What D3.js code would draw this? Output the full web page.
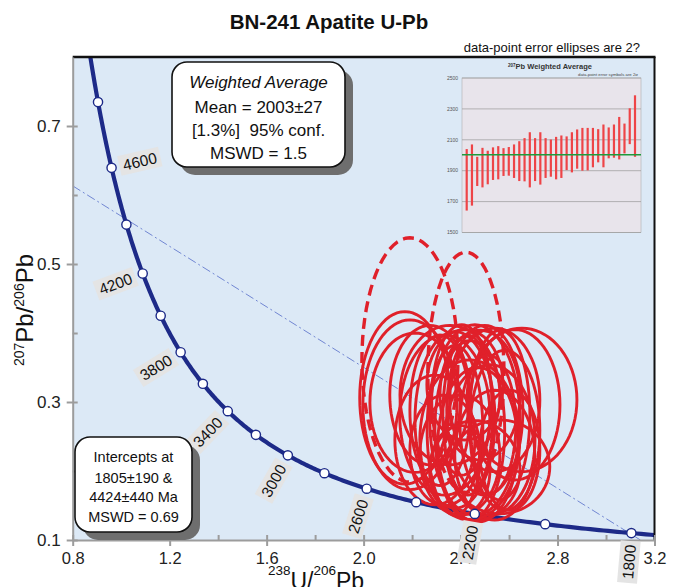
<!DOCTYPE html>
<html>
<head>
<meta charset="utf-8">
<script src="https://cdn.jsdelivr.net/npm/d3@7/dist/d3.min.js"></script>
<style>
  html, body { margin: 0; padding: 0; background: #fff; }
  svg { display: block; }
  text { font-family: "Liberation Sans", Arial, sans-serif; }
</style>
</head>
<body>
<svg id="chart" width="680" height="587"></svg>
<script>
// ---------------- DATA ----------------
const title = "BN-241 Apatite U-Pb";
const subtitle = "data-point error ellipses are 2?";
const xTicks = [0.8, 1.2, 1.6, 2.0, 2.4, 2.8, 3.2];
const xMinorTicks = [1.0, 1.4, 1.8, 2.2, 2.6, 3.0];
const yTicks = [0.1, 0.3, 0.5, 0.7];
const yMinorTicks = [0.2, 0.4, 0.6];

// concordia age markers (Ma) and labelled ages
const markerAges = [1800, 2000, 2200, 2400, 2600, 2800, 3000, 3200, 3400, 3600, 3800, 4000, 4200, 4400, 4600, 4800];
const labelAges  = [4600, 4200, 3800, 3400, 3000, 2600, 2200, 1800];
const labelSide  = [1, -1, -1, -1, -1, -1, -1, -1];   // 1 = upper-right side of curve

// discordia intercept ages (Ma)
const lowerIntercept = 1805;
const upperIntercept = 4424;

// data-point ellipses: centre 238U/206Pb, centre 207Pb/206Pb, 2s half-axes
const ellX  = [2.170, 2.191, 2.212, 2.653, 2.562, 2.541, 2.624, 2.471, 2.438, 2.377, 2.500, 2.335, 2.405, 2.521, 2.294, 2.459, 2.583,
               2.356, 2.430, 2.480, 2.315, 2.397, 2.541, 2.377, 2.438, 2.273, 2.513, 2.418, 2.603, 2.335, 2.459, 2.562, 2.397];
const ellY  = [0.306, 0.296, 0.299, 0.303, 0.206, 0.303, 0.296, 0.238, 0.259, 0.274, 0.288, 0.281, 0.303, 0.245, 0.245, 0.201, 0.259,
               0.310, 0.281, 0.310, 0.288, 0.223, 0.223, 0.259, 0.245, 0.310, 0.267, 0.325, 0.230, 0.230, 0.274, 0.281, 0.201];
const ellSX = [0.186, 0.194, 0.186, 0.227, 0.206, 0.186, 0.186, 0.165, 0.144, 0.165, 0.157, 0.186, 0.124, 0.186, 0.165, 0.186, 0.144,
               0.206, 0.103, 0.165, 0.124, 0.165, 0.165, 0.115, 0.206, 0.165, 0.115, 0.157, 0.124, 0.144, 0.186, 0.124, 0.124];
const ellSY = [0.125, 0.123, 0.101, 0.104, 0.068, 0.104, 0.109, 0.112, 0.130, 0.128, 0.123, 0.116, 0.109, 0.109, 0.094, 0.072, 0.116,
               0.101, 0.116, 0.094, 0.109, 0.087, 0.094, 0.123, 0.116, 0.101, 0.101, 0.080, 0.087, 0.080, 0.138, 0.123, 0.065];
// rejected analyses (dashed)
const rejX  = [2.191, 2.422];
const rejY  = [0.361, 0.343];
const rejSX = [0.198, 0.157];
const rejSY = [0.177, 0.174];

// box texts
const wavgLines = ["Weighted Average", "Mean = 2003\u00B127", "[1.3%]\u00A0\u00A095% conf.", "MSWD = 1.5"];
const interceptLines = ["Intercepts at", "1805\u00B1190 &", "4424\u00B1440 Ma", "MSWD = 0.69"];

// inset: 207Pb weighted average bars (Ma, 2s)
const insetLow  = [1642, 1674, 1801, 1792, 1812, 1840, 1844, 1866, 1868, 1853, 1833, 1831, 1792, 1833, 1810, 1853, 1861,
                   1844, 1853, 1904, 1889, 1913, 1900, 1902, 1922, 1954, 1922, 1980, 1984, 1973, 2012, 2072, 1990];
const insetHigh = [2040, 2070, 1990, 2048, 2029, 2051, 2059, 2046, 2053, 2070, 2091, 2111, 2149, 2111, 2149, 2111, 2102,
                   2119, 2128, 2122, 2149, 2167, 2177, 2177, 2177, 2169, 2199, 2180, 2199, 2248, 2205, 2304, 2388];
const insetMean = 2003;
const insetTicks = [1500, 1700, 1900, 2100, 2300, 2500];

// ---------------- CHART ----------------
const svg = d3.select("#chart");
const L = 72.7, R = 654.5, T = 57, B = 540;
const x = d3.scaleLinear().domain([0.8, 3.2]).range([L, R]);
const y = d3.scaleLinear().domain([0.1, 0.8]).range([B, T]);

const L238 = 1.55125e-10, L235 = 9.8485e-10, U85 = 137.88;
function tw(tMa) {
  const t = tMa * 1e6;
  const e8 = Math.expm1(L238 * t), e5 = Math.expm1(L235 * t);
  return [1 / e8, e5 / e8 / U85];
}

svg.append("defs").append("clipPath").attr("id", "clip")
  .append("rect").attr("x", L).attr("y", T).attr("width", R - L).attr("height", B - T);

// background
svg.append("rect").attr("x", L).attr("y", T).attr("width", R - L).attr("height", B - T).attr("fill", "#dce9f6");

const plot = svg.append("g").attr("clip-path", "url(#clip)");

// discordia
const pLo = tw(lowerIntercept), pHi = tw(upperIntercept);
const slope = (pLo[1] - pHi[1]) / (pLo[0] - pHi[0]);
const dx0 = 0.8, dx1 = pLo[0] + (0.1 - pLo[1]) / slope;
plot.append("line")
  .attr("x1", x(dx0)).attr("y1", y(pHi[1] + slope * (dx0 - pHi[0])))
  .attr("x2", x(dx1)).attr("y2", y(0.1))
  .attr("stroke", "#7186d2").attr("stroke-width", 1).attr("stroke-dasharray", "9,3,2,3");

// concordia
const curveAges = d3.range(1000, 5301, 10);
const concLine = d3.line().x(d => x(tw(d)[0])).y(d => y(tw(d)[1])).curve(d3.curveLinear);
plot.append("path").attr("d", concLine(curveAges))
  .attr("fill", "none").attr("stroke", "#1d2a88").attr("stroke-width", 4.2);

// ellipses
function ellPath(cx, cy, sx, sy) {
  const pts = d3.range(0, 72).map(i => {
    const a = i / 72 * 2 * Math.PI;
    return [x(cx + sx * Math.cos(a)), y(cy + sy * Math.sin(a))];
  });
  return d3.line().curve(d3.curveLinearClosed)(pts);
}
plot.selectAll("path.rej").data(rejX).join("path").attr("class", "rej")
  .attr("d", (d, i) => ellPath(rejX[i], rejY[i], rejSX[i], rejSY[i]))
  .attr("fill", "none").attr("stroke", "#e0202a").attr("stroke-width", 3.4)
  .attr("stroke-dasharray", "11,6");
plot.selectAll("path.ell").data(ellX).join("path").attr("class", "ell")
  .attr("d", (d, i) => ellPath(ellX[i], ellY[i], ellSX[i], ellSY[i]))
  .attr("fill", "none").attr("stroke", "#e0202a").attr("stroke-width", 2.9);

// concordia markers
plot.selectAll("circle.mk").data(markerAges).join("circle").attr("class", "mk")
  .attr("cx", d => x(tw(d)[0])).attr("cy", d => y(tw(d)[1])).attr("r", 4.6)
  .attr("fill", "#fff").attr("stroke", "#1d2a88").attr("stroke-width", 1.4);

// borders top/right
svg.append("line").attr("x1", L).attr("x2", R + 1).attr("y1", T).attr("y2", T).attr("stroke", "#111").attr("stroke-width", 2.5);
svg.append("line").attr("x1", R).attr("x2", R).attr("y1", T).attr("y2", B).attr("stroke", "#111").attr("stroke-width", 2);

// axes
const axisColor = "#9c9c9c";
const gy = svg.append("g").attr("transform", `translate(${L},0)`)
  .call(d3.axisLeft(y).tickValues(yTicks).tickSize(6).tickSizeOuter(0).tickPadding(6).tickFormat(d3.format(".1f")));
gy.select(".domain").attr("stroke", axisColor).attr("stroke-width", 2);
gy.selectAll(".tick line").attr("x2", -6).attr("x1", 5).attr("stroke", axisColor).attr("stroke-width", 2);
gy.selectAll(".tick text").attr("font-size", 17).attr("fill", "#222").attr("font-family", "Liberation Sans, Arial, sans-serif");
const gym = svg.append("g").attr("transform", `translate(${L},0)`)
  .call(d3.axisLeft(y).tickValues(yMinorTicks).tickSize(-5).tickSizeOuter(0).tickFormat(""));
gym.select(".domain").remove();
gym.selectAll(".tick line").attr("stroke", axisColor).attr("stroke-width", 2);

const gx = svg.append("g").attr("transform", `translate(0,${B})`)
  .call(d3.axisBottom(x).tickValues(xTicks).tickSize(6).tickSizeOuter(0).tickPadding(6).tickFormat(d3.format(".1f")));
gx.select(".domain").attr("stroke", axisColor).attr("stroke-width", 2);
gx.selectAll(".tick line").attr("y1", -5).attr("y2", 6).attr("stroke", axisColor).attr("stroke-width", 2);
gx.selectAll(".tick text").attr("font-size", 16.5).attr("fill", "#222").attr("font-family", "Liberation Sans, Arial, sans-serif");
const gxm = svg.append("g").attr("transform", `translate(0,${B})`)
  .call(d3.axisBottom(x).tickValues(xMinorTicks).tickSize(-5).tickSizeOuter(0).tickFormat(""));
gxm.select(".domain").remove();
gxm.selectAll(".tick line").attr("stroke", axisColor).attr("stroke-width", 2);

// concordia age labels
labelAges.forEach((age, i) => {
  const p = tw(age), pa = tw(age - 5), pb = tw(age + 5);
  const px = x(p[0]), py = y(p[1]);
  let tx = x(pa[0]) - x(pb[0]), ty = y(pa[1]) - y(pb[1]);
  const len = Math.hypot(tx, ty); tx /= len; ty /= len;
  let nx = ty, ny = -tx;
  if (ny > 0 || (ny === 0 && nx < 0)) { nx = -nx; ny = -ny; }
  const ang = Math.atan2(ny, nx) * 180 / Math.PI;
  const d = 29 * labelSide[i];
  const cx = px + nx * d, cy = py + ny * d;
  const g = svg.append("g").attr("transform", `translate(${cx},${cy}) rotate(${ang})`);
  g.append("rect").attr("x", -21).attr("y", -10).attr("width", 42).attr("height", 20).attr("fill", "#e4e4e4");
  g.append("text").attr("text-anchor", "middle").attr("dy", "0.36em").attr("font-size", 15.5).attr("fill", "#111").text(age);
});

// axis titles
const yl = svg.append("text").attr("transform", "translate(33,310) rotate(-90)").attr("text-anchor", "middle").attr("fill", "#111");
yl.append("tspan").attr("font-size", 14).attr("dy", -9).text("207");
yl.append("tspan").attr("font-size", 24).attr("dy", 9).text("Pb/");
yl.append("tspan").attr("font-size", 14).attr("dy", -9).text("206");
yl.append("tspan").attr("font-size", 24).attr("dy", 9).text("Pb");

const xl = svg.append("text").attr("x", 316).attr("y", 589).attr("text-anchor", "middle").attr("fill", "#111");
xl.append("tspan").attr("font-size", 13.5).attr("dy", -14).text("238");
xl.append("tspan").attr("font-size", 23).attr("dy", 14).text("U/");
xl.append("tspan").attr("font-size", 13.5).attr("dy", -14).text("206");
xl.append("tspan").attr("font-size", 23).attr("dy", 14).text("Pb");

// title + subtitle
svg.append("text").attr("x", 329).attr("y", 29).attr("text-anchor", "middle")
  .attr("font-family", "Lato, 'Open Sans', sans-serif").attr("font-weight", "bold").attr("font-size", 20.5)
  .attr("fill", "#111").text(title);
svg.append("text").attr("x", 640).attr("y", 52).attr("text-anchor", "end")
  .attr("font-size", 13).attr("fill", "#111").text(subtitle);

// boxes
function box(bx, by, w, h, lines, sizes, baselines, styles) {
  svg.append("rect").attr("x", bx + 8).attr("y", by + 8).attr("width", w).attr("height", h).attr("rx", 15)
    .attr("fill", "#6e6e6e");
  svg.append("rect").attr("x", bx).attr("y", by).attr("width", w).attr("height", h).attr("rx", 15)
    .attr("fill", "#fff").attr("stroke", "#111").attr("stroke-width", 1.6);
  lines.forEach((t, i) => {
    svg.append("text").attr("x", bx + w / 2).attr("y", by + baselines[i]).attr("text-anchor", "middle")
      .attr("font-size", sizes).attr("font-style", styles[i]).attr("fill", "#111").text(t);
  });
}
box(172, 62, 173, 105, wavgLines, 17, [26, 51, 74, 97], ["italic", "normal", "normal", "normal"]);
box(75, 437, 117, 95, interceptLines, 14.5, [25, 46, 65, 85], ["normal", "normal", "normal", "normal"]);

// inset
const iL = 462, iR = 641, iT = 78, iB = 232.5;
const ix = d3.scalePoint().domain(d3.range(insetLow.length)).range([iL + 4.7, iR - 6]);
const iy = d3.scaleLinear().domain([1500, 2500]).range([iB, iT]);
const inset = svg.append("g");
inset.append("rect").attr("x", iL).attr("y", iT).attr("width", iR - iL).attr("height", iB - iT)
  .attr("fill", "#e8e4eb").attr("stroke", "#b0b0b0").attr("stroke-width", 0.6);
inset.selectAll("line.grid").data(insetTicks).join("line").attr("class", "grid")
  .attr("x1", iL).attr("x2", iR).attr("y1", d => iy(d)).attr("y2", d => iy(d))
  .attr("stroke", "#9a9a9a").attr("stroke-width", 0.7);
inset.selectAll("text.itk").data(insetTicks).join("text").attr("class", "itk")
  .attr("x", iL - 4).attr("y", d => iy(d)).attr("dy", "0.35em").attr("text-anchor", "end")
  .attr("font-size", 5).attr("fill", "#555").text(d => d);
inset.selectAll("line.bar").data(insetLow).join("line").attr("class", "bar")
  .attr("x1", (d, i) => ix(i)).attr("x2", (d, i) => ix(i))
  .attr("y1", (d, i) => iy(insetLow[i])).attr("y2", (d, i) => iy(insetHigh[i]))
  .attr("stroke", "#ee4447").attr("stroke-width", 2.2);
inset.append("line").attr("x1", iL).attr("x2", iR).attr("y1", iy(insetMean)).attr("y2", iy(insetMean))
  .attr("stroke", "#1f9a3c").attr("stroke-width", 1.5);
const it = inset.append("text").attr("x", 550).attr("y", 69).attr("text-anchor", "middle")
  .attr("font-weight", "bold").attr("fill", "#333");
it.append("tspan").attr("font-size", 4.5).attr("dy", -2.5).text("207");
it.append("tspan").attr("font-size", 7.5).attr("dy", 2.5).text("Pb Weighted Average");
inset.append("text").attr("x", 638).attr("y", 75.5).attr("text-anchor", "end")
  .attr("font-size", 4.3).attr("fill", "#444").text("data-point error symbols are 2\u03C3");
</script>
</body>
</html>
